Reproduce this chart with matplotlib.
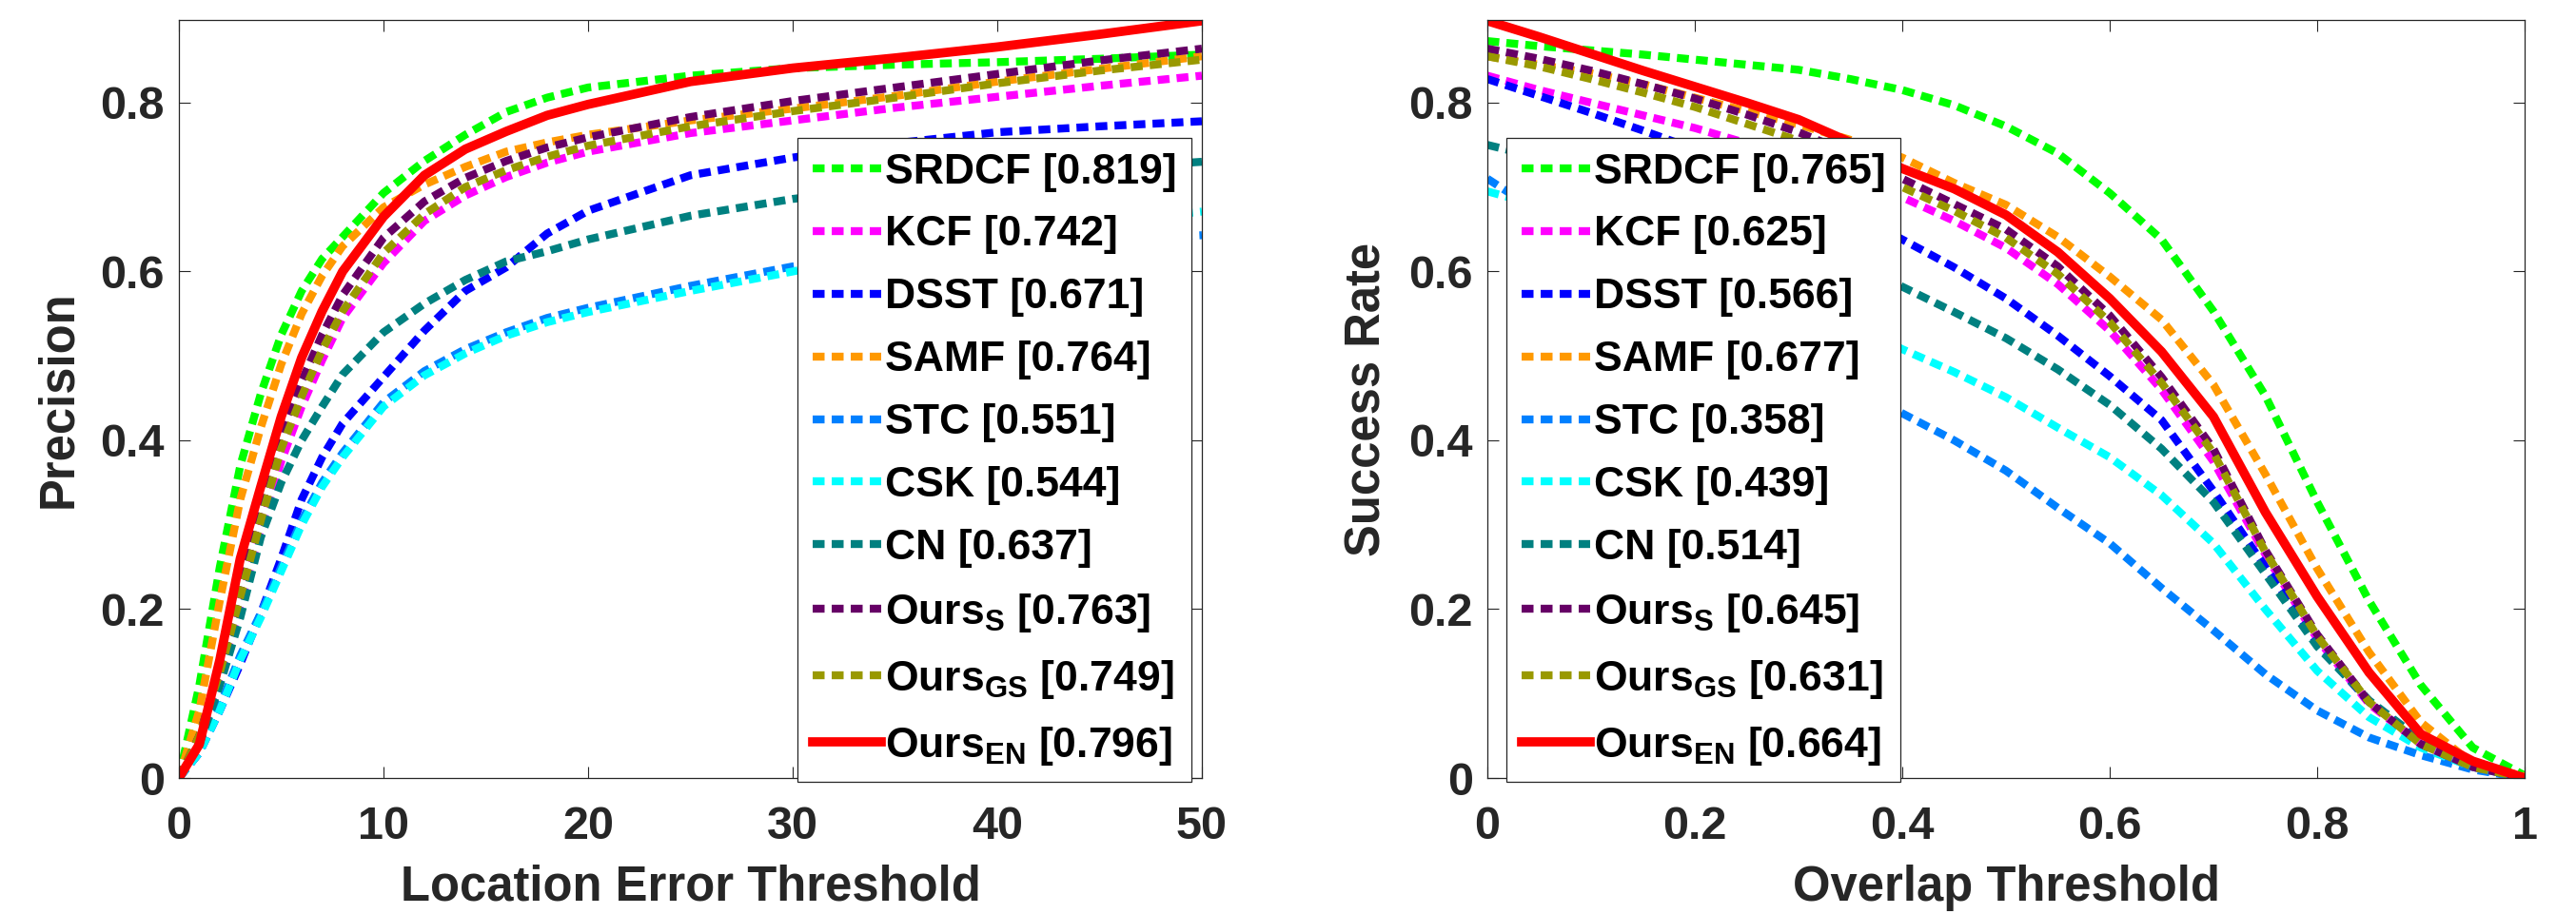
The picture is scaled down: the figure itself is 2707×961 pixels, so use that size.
import numpy as np
import matplotlib
matplotlib.use('Agg')
import matplotlib.pyplot as plt

plt.rcParams['font.family'] = ['Liberation Sans', 'DejaVu Sans']
plt.rcParams['font.weight'] = 'bold'
plt.rcParams['axes.labelweight'] = 'bold'

# thresholds (x axes)
err_thr = [0, 1, 2, 3, 4, 5, 6, 7, 8, 10, 12, 14, 16, 18, 20, 25, 30, 35, 40, 45, 50]
ovl_thr = [0, 0.05, 0.1, 0.15, 0.2, 0.25, 0.3, 0.35, 0.4, 0.45, 0.5,
           0.55, 0.6, 0.65, 0.7, 0.75, 0.8, 0.85, 0.9, 0.95, 1.0]

names = ['SRDCF', 'KCF', 'DSST', 'SAMF', 'STC', 'CSK', 'CN',
         'Ours$_{\\mathregular{S}}$', 'Ours$_{\\mathregular{GS}}$', 'Ours$_{\\mathregular{EN}}$']
prec_score = [0.819, 0.742, 0.671, 0.764, 0.551, 0.544, 0.637, 0.763, 0.749, 0.796]
succ_score = [0.765, 0.625, 0.566, 0.677, 0.358, 0.439, 0.514, 0.645, 0.631, 0.664]

# precision plot (location error threshold)
prec_srdcf = [0, 0.11, 0.25, 0.37, 0.455, 0.525, 0.577, 0.615, 0.641, 0.693, 0.731, 0.762, 0.789, 0.806, 0.818, 0.832, 0.841, 0.845, 0.848, 0.852, 0.857]
prec_kcf = [0, 0.045, 0.12, 0.205, 0.295, 0.375, 0.44, 0.495, 0.545, 0.61, 0.66, 0.69, 0.712, 0.729, 0.742, 0.764, 0.779, 0.794, 0.807, 0.82, 0.832]
prec_dsst = [0, 0.03, 0.08, 0.135, 0.195, 0.26, 0.33, 0.38, 0.42, 0.475, 0.53, 0.577, 0.605, 0.645, 0.672, 0.714, 0.735, 0.752, 0.765, 0.772, 0.778]
prec_samf = [0, 0.08, 0.21, 0.33, 0.415, 0.49, 0.55, 0.595, 0.63, 0.676, 0.703, 0.724, 0.742, 0.753, 0.762, 0.779, 0.793, 0.808, 0.825, 0.84, 0.855]
prec_stc = [0, 0.03, 0.085, 0.145, 0.195, 0.25, 0.305, 0.35, 0.385, 0.445, 0.482, 0.508, 0.528, 0.545, 0.557, 0.583, 0.606, 0.62, 0.63, 0.637, 0.643]
prec_csk = [0, 0.03, 0.08, 0.14, 0.19, 0.245, 0.30, 0.345, 0.38, 0.44, 0.477, 0.503, 0.524, 0.54, 0.552, 0.577, 0.60, 0.625, 0.643, 0.658, 0.671]
prec_cn = [0, 0.04, 0.11, 0.19, 0.285, 0.35, 0.40, 0.44, 0.478, 0.528, 0.562, 0.59, 0.612, 0.624, 0.638, 0.666, 0.686, 0.70, 0.712, 0.722, 0.730]
prec_ours_s = [0, 0.05, 0.13, 0.225, 0.32, 0.41, 0.47, 0.525, 0.572, 0.64, 0.683, 0.711, 0.731, 0.747, 0.759, 0.783, 0.802, 0.818, 0.834, 0.85, 0.864]
prec_ours_gs = [0, 0.05, 0.125, 0.215, 0.305, 0.39, 0.452, 0.507, 0.553, 0.622, 0.668, 0.70, 0.72, 0.736, 0.749, 0.772, 0.79, 0.806, 0.823, 0.838, 0.851]
prec_ours_en = [0, 0.04, 0.14, 0.26, 0.345, 0.428, 0.498, 0.553, 0.60, 0.665, 0.714, 0.745, 0.766, 0.785, 0.798, 0.825, 0.841, 0.853, 0.866, 0.881, 0.897]

# success plot (overlap threshold)
succ_srdcf = [0.873, 0.867, 0.862, 0.857, 0.851, 0.845, 0.839, 0.828, 0.815, 0.797, 0.772, 0.74, 0.693, 0.638, 0.553, 0.453, 0.327, 0.21, 0.11, 0.036, 0.003]
succ_kcf = [0.832, 0.815, 0.80, 0.785, 0.77, 0.752, 0.733, 0.712, 0.688, 0.66, 0.628, 0.585, 0.53, 0.46, 0.375, 0.265, 0.165, 0.088, 0.04, 0.013, 0.0]
succ_dsst = [0.828, 0.808, 0.788, 0.767, 0.745, 0.722, 0.697, 0.67, 0.638, 0.605, 0.568, 0.524, 0.476, 0.424, 0.34, 0.25, 0.16, 0.09, 0.044, 0.016, 0.0]
succ_samf = [0.855, 0.845, 0.835, 0.822, 0.806, 0.79, 0.774, 0.756, 0.735, 0.705, 0.679, 0.641, 0.594, 0.543, 0.466, 0.36, 0.248, 0.149, 0.066, 0.017, 0.002]
succ_stc = [0.71, 0.67, 0.635, 0.60, 0.565, 0.53, 0.497, 0.465, 0.432, 0.40, 0.364, 0.32, 0.278, 0.225, 0.175, 0.123, 0.08, 0.048, 0.027, 0.01, 0.0]
succ_csk = [0.695, 0.678, 0.66, 0.64, 0.615, 0.59, 0.565, 0.538, 0.508, 0.481, 0.451, 0.415, 0.38, 0.335, 0.278, 0.2, 0.127, 0.072, 0.036, 0.013, 0.0]
succ_cn = [0.75, 0.735, 0.72, 0.70, 0.68, 0.657, 0.635, 0.61, 0.582, 0.552, 0.521, 0.484, 0.442, 0.39, 0.327, 0.242, 0.156, 0.092, 0.045, 0.018, 0.0]
succ_ours_s = [0.864, 0.852, 0.838, 0.822, 0.805, 0.786, 0.765, 0.74, 0.71, 0.68, 0.65, 0.606, 0.548, 0.475, 0.39, 0.27, 0.17, 0.09, 0.04, 0.013, 0.0]
succ_ours_gs = [0.855, 0.843, 0.828, 0.812, 0.795, 0.775, 0.755, 0.73, 0.70, 0.672, 0.64, 0.597, 0.54, 0.468, 0.385, 0.268, 0.168, 0.09, 0.04, 0.013, 0.0]
succ_ours_en = [0.897, 0.878, 0.858, 0.838, 0.819, 0.80, 0.78, 0.753, 0.722, 0.698, 0.667, 0.623, 0.568, 0.505, 0.428, 0.315, 0.215, 0.125, 0.052, 0.02, 0.0]

prec_all = [prec_srdcf, prec_kcf, prec_dsst, prec_samf, prec_stc, prec_csk, prec_cn,
            prec_ours_s, prec_ours_gs, prec_ours_en]
succ_all = [succ_srdcf, succ_kcf, succ_dsst, succ_samf, succ_stc, succ_csk, succ_cn,
            succ_ours_s, succ_ours_gs, succ_ours_en]

colors = ['#00ff00', '#ff00ff', '#0000ff', '#ff9900', '#0080ff', '#00ffff',
          '#008080', '#660066', '#999900', '#ff0000']

AXC = '#262626'
W, H = 2707, 961
fig = plt.figure(figsize=(W / 100, H / 100), dpi=100)
ax1 = fig.add_axes([188 / W, 1 - 818 / H, 1075 / W, 797 / H])
ax2 = fig.add_axes([1563 / W, 1 - 818 / H, 1090 / W, 797 / H])


def draw(ax, xs, series, scores, leg_x):
    for i, ys in enumerate(series):
        lab = '%s [%.3f]' % (names[i], scores[i])
        if i == len(series) - 1:
            ax.plot(xs, ys, '-', color=colors[i], lw=7, label=lab)
        else:
            ax.plot(xs, ys, color=colors[i], lw=6, linestyle=(0, (1.5, 0.9)), label=lab)
    ax.set_ylim(0, 0.898)
    ax.set_yticks([0, 0.2, 0.4, 0.6, 0.8])
    ax.set_yticklabels(['0', '0.2', '0.4', '0.6', '0.8'])
    for s in ax.spines.values():
        s.set_color(AXC)
        s.set_linewidth(0.9)
    ax.tick_params(direction='in', length=8.6, width=0.8, color=AXC,
                   top=True, right=True, labelsize=35, labelcolor=AXC)
    ax.tick_params(axis='x', pad=21)
    ax.tick_params(axis='y', pad=10.8)
    leg = ax.legend(loc='upper left', bbox_to_anchor=(leg_x, 0.8444), borderaxespad=0,
                    fontsize=32, handlelength=1.62, handletextpad=0.09, borderpad=0.35,
                    labelspacing=0.56, fancybox=False, framealpha=1)
    leg.get_frame().set_edgecolor(AXC)
    leg.get_frame().set_linewidth(0.9)


draw(ax1, err_thr, prec_all, prec_score, (838 - 188) / 1075)
ax1.set_xlim(0, 50)
ax1.set_xticks([0, 10, 20, 30, 40, 50])
ax1.set_xlabel('Location Error Threshold', fontsize=36.5, color=AXC, labelpad=12)
ax1.set_ylabel('Precision', fontsize=36.5, color=AXC, labelpad=14)

draw(ax2, ovl_thr, succ_all, succ_score, (1583 - 1563) / 1090)
ax2.set_xlim(0, 1)
ax2.set_xticks([0, 0.2, 0.4, 0.6, 0.8, 1])
ax2.set_xticklabels(['0', '0.2', '0.4', '0.6', '0.8', '1'])
ax2.set_xlabel('Overlap Threshold', fontsize=36.5, color=AXC, labelpad=12)
ax2.set_ylabel('Success Rate', fontsize=36.5, color=AXC, labelpad=14)

fig.savefig('out.png', dpi=100)
